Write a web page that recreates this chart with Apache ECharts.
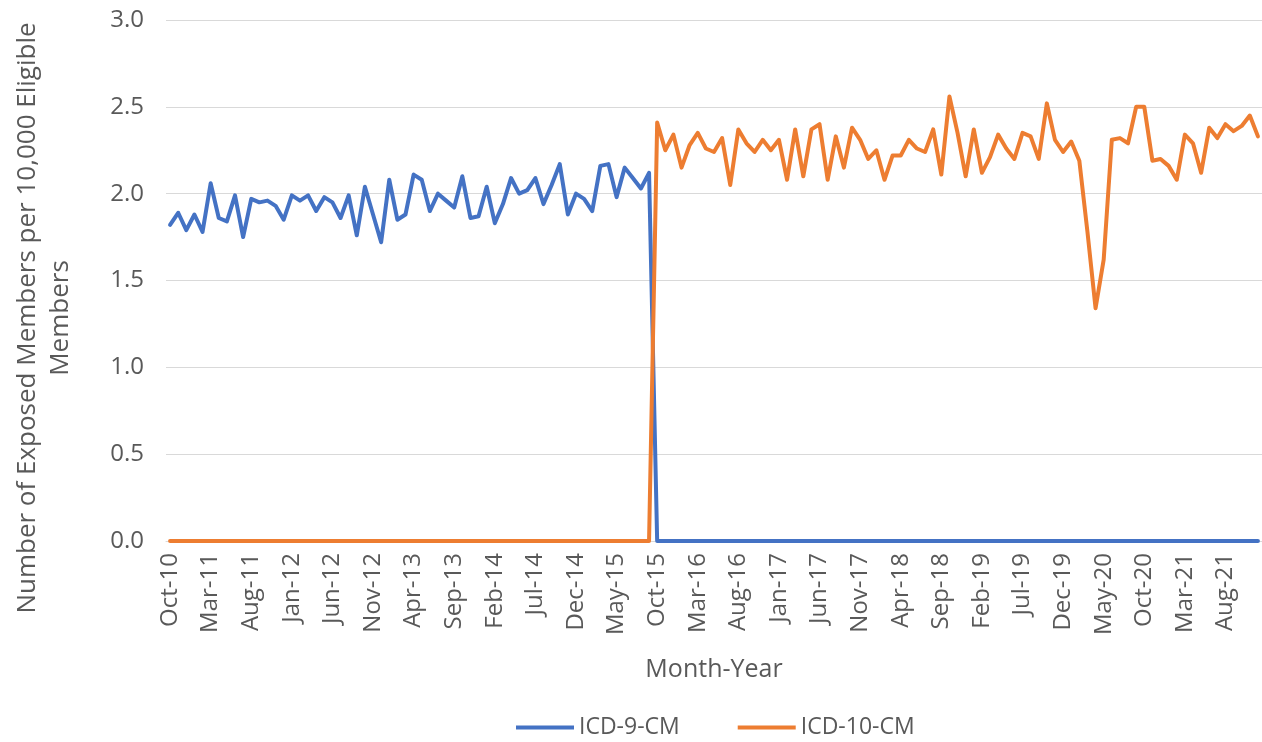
<!DOCTYPE html>
<html>
<head>
<meta charset="utf-8">
<script src="https://cdn.jsdelivr.net/npm/echarts@6/dist/echarts.min.js"></script>
<style>
html,body{margin:0;padding:0;background:#fff;}
#chart{width:1262px;height:742px;}
</style>
</head>
<body>
<div id="chart"></div>
<script>
const categories = [
'Oct-10','Nov-10','Dec-10',
'Jan-11','Feb-11','Mar-11','Apr-11','May-11','Jun-11','Jul-11','Aug-11','Sep-11','Oct-11','Nov-11','Dec-11',
'Jan-12','Feb-12','Mar-12','Apr-12','May-12','Jun-12','Jul-12','Aug-12','Sep-12','Oct-12','Nov-12','Dec-12',
'Jan-13','Feb-13','Mar-13','Apr-13','May-13','Jun-13','Jul-13','Aug-13','Sep-13','Oct-13','Nov-13','Dec-13',
'Jan-14','Feb-14','Mar-14','Apr-14','May-14','Jun-14','Jul-14','Aug-14','Sep-14','Oct-14','Nov-14','Dec-14',
'Jan-15','Feb-15','Mar-15','Apr-15','May-15','Jun-15','Jul-15','Aug-15','Sep-15','Oct-15','Nov-15','Dec-15',
'Jan-16','Feb-16','Mar-16','Apr-16','May-16','Jun-16','Jul-16','Aug-16','Sep-16','Oct-16','Nov-16','Dec-16',
'Jan-17','Feb-17','Mar-17','Apr-17','May-17','Jun-17','Jul-17','Aug-17','Sep-17','Oct-17','Nov-17','Dec-17',
'Jan-18','Feb-18','Mar-18','Apr-18','May-18','Jun-18','Jul-18','Aug-18','Sep-18','Oct-18','Nov-18','Dec-18',
'Jan-19','Feb-19','Mar-19','Apr-19','May-19','Jun-19','Jul-19','Aug-19','Sep-19','Oct-19','Nov-19','Dec-19',
'Jan-20','Feb-20','Mar-20','Apr-20','May-20','Jun-20','Jul-20','Aug-20','Sep-20','Oct-20','Nov-20','Dec-20',
'Jan-21','Feb-21','Mar-21','Apr-21','May-21','Jun-21','Jul-21','Aug-21','Sep-21','Oct-21','Nov-21','Dec-21'
];

const icd9 = [
1.82,1.89,1.79,1.88,1.78,2.06,1.86,1.84,1.99,1.75,
1.97,1.95,1.96,1.93,1.85,1.99,1.96,1.99,1.90,1.98,
1.95,1.86,1.99,1.76,2.04,1.88,1.72,2.08,1.85,1.88,
2.11,2.08,1.90,2.00,1.96,1.92,2.10,1.86,1.87,2.04,
1.83,1.94,2.09,2.00,2.02,2.09,1.94,2.05,2.17,1.88,
2.00,1.97,1.90,2.16,2.17,1.98,2.15,2.09,2.03,2.12,
0,0,0,0,0,0,0,0,0,0,
0,0,0,0,0,0,0,0,0,0,
0,0,0,0,0,0,0,0,0,0,
0,0,0,0,0,0,0,0,0,0,
0,0,0,0,0,0,0,0,0,0,
0,0,0,0,0,0,0,0,0,0,
0,0,0,0,0,0,0,0,0,0,
0,0,0,0,0
];

const icd10 = [
0,0,0,0,0,0,0,0,0,0,
0,0,0,0,0,0,0,0,0,0,
0,0,0,0,0,0,0,0,0,0,
0,0,0,0,0,0,0,0,0,0,
0,0,0,0,0,0,0,0,0,0,
0,0,0,0,0,0,0,0,0,0,
2.41,2.25,2.34,2.15,2.28,2.35,2.26,2.24,2.32,2.05,
2.37,2.29,2.24,2.31,2.25,2.31,2.08,2.37,2.10,2.37,
2.40,2.08,2.33,2.15,2.38,2.31,2.20,2.25,2.08,2.22,
2.22,2.31,2.26,2.24,2.37,2.11,2.56,2.35,2.10,2.37,
2.12,2.21,2.34,2.26,2.20,2.35,2.33,2.20,2.52,2.31,
2.24,2.30,2.19,1.78,1.34,1.62,2.31,2.32,2.29,2.50,
2.50,2.19,2.20,2.16,2.08,2.34,2.29,2.12,2.38,2.32,
2.40,2.36,2.39,2.45,2.33
];

const yTicks = [0, 0.5, 1.0, 1.5, 2.0, 2.5, 3.0];
const seriesNames = ['ICD-9-CM', 'ICD-10-CM'];
const xTitle = 'Month-Year';
const yTitle = 'Number of Exposed Members per 10,000 Eligible\nMembers';

const FONT = 'Open Sans';
const TXT = '#595959';

const chart = echarts.init(document.getElementById('chart'), null, {renderer: 'canvas'});
chart.setOption({
  backgroundColor: '#ffffff',
  animation: false,
  textStyle: {fontFamily: FONT, color: TXT},
  grid: {left: 166, top: 20, width: 1099, height: 521, containLabel: false},
  legend: {
    data: seriesNames,
    left: 511, top: 711,
    icon: 'rect',
    itemWidth: 58, itemHeight: 4,
    itemGap: 58,
    textStyle: {fontFamily: FONT, fontSize: 23, color: TXT}
  },
  xAxis: {
    type: 'category',
    data: categories,
    boundaryGap: true,
    name: xTitle,
    nameLocation: 'middle',
    nameGap: 116,
    nameTextStyle: {fontFamily: FONT, fontSize: 25, color: TXT},
    axisLine: {show: true, lineStyle: {color: '#d9d9d9', width: 1}},
    axisTick: {show: false},
    axisLabel: {interval: 4, rotate: 90, margin: 12, fontFamily: FONT, fontSize: 24, color: TXT}
  },
  yAxis: {
    type: 'value',
    min: yTicks[0], max: yTicks[yTicks.length - 1], interval: 0.5,
    axisLine: {show: false},
    axisTick: {show: false},
    splitLine: {lineStyle: {color: '#d9d9d9', width: 1}},
    axisLabel: {margin: 22, fontFamily: FONT, fontSize: 24, color: TXT,
      formatter: v => v.toFixed(1)}
  },
  graphic: [{
    type: 'text',
    x: 44, y: 318,
    rotation: Math.PI / 2,
    style: {
      text: yTitle,
      align: 'center', verticalAlign: 'middle',
      font: '26px "Open Sans"',
      fill: TXT,
      lineHeight: 33
    }
  }],
  series: [
    {name: seriesNames[0], type: 'line', data: icd9, showSymbol: false, symbol: 'none',
     lineStyle: {color: '#4472C4', width: 4, cap: 'round', join: 'round'},
     itemStyle: {color: '#4472C4'}},
    {name: seriesNames[1], type: 'line', data: icd10, showSymbol: false, symbol: 'none',
     lineStyle: {color: '#ED7D31', width: 4, cap: 'round', join: 'round'},
     itemStyle: {color: '#ED7D31'}}
  ]
});
</script>
</body>
</html>
